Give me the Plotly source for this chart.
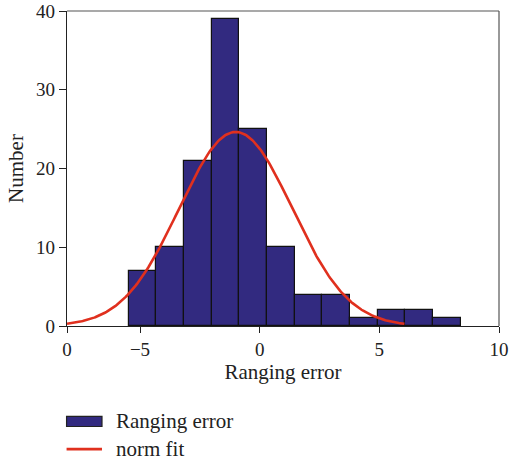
import numpy as np
import plotly.graph_objects as go

# Histogram of ranging errors
counts = [7, 10, 21, 39, 25, 10, 4, 4, 1, 2, 2, 1]
bin_start = -5.48
bin_width = 1.157

# Normal fit parameters
fit_mu = -1.0
fit_sigma = 2.36
fit_range = (-8.05, 6.05)

x_tick_vals = [-8.05, -5, 0, 5, 10]
x_tick_text = ["0", "\u22125", "0", "5", "10"]
y_tick_vals = [0, 10, 20, 30, 40]

centers = bin_start + bin_width * (np.arange(len(counts)) + 0.5)
n_total = sum(counts)
xf = np.linspace(fit_range[0], fit_range[1], 300)
yf = n_total * bin_width / (fit_sigma * np.sqrt(2 * np.pi)) * np.exp(-0.5 * ((xf - fit_mu) / fit_sigma) ** 2)

bar_color = "#322a80"
line_color = "#e0301e"
font_family = "Liberation Serif, DejaVu Serif, serif"
text_color = "#222222"

fig = go.Figure()
fig.add_trace(go.Bar(
    x=centers, y=counts, width=bin_width,
    marker=dict(color=bar_color, line=dict(color="#111111", width=1.2)),
    name="Ranging error", showlegend=False,
))
fig.add_trace(go.Scatter(
    x=xf, y=yf, mode="lines",
    line=dict(color=line_color, width=2.6),
    name="norm fit", showlegend=False,
))

# top/right frame
fig.add_shape(type="line", xref="paper", yref="paper", x0=0, x1=1, y0=1, y1=1,
              line=dict(color="#555555", width=1.2))
fig.add_shape(type="line", xref="paper", yref="paper", x0=1, x1=1, y0=0, y1=1,
              line=dict(color="#555555", width=1.2))

# legend drawn below the axes (plot height 315 px)
fig.add_shape(type="rect", xref="paper", yref="paper",
              x0=-0.001, x1=0.081, y0=-0.287, y1=-0.319,
              fillcolor=bar_color, line=dict(color="#222222", width=1.2))
fig.add_shape(type="line", xref="paper", yref="paper",
              x0=-0.001, x1=0.081, y0=-0.391, y1=-0.391,
              line=dict(color=line_color, width=2.6))
fig.add_annotation(xref="paper", yref="paper", x=0.108, y=-0.303, xanchor="left",
                   yanchor="middle", text="Ranging error", showarrow=False,
                   font=dict(size=21, color=text_color, family=font_family))
fig.add_annotation(xref="paper", yref="paper", x=0.108, y=-0.391, xanchor="left",
                   yanchor="middle", text="norm fit", showarrow=False,
                   font=dict(size=21, color=text_color, family=font_family))

fig.update_layout(
    width=510, height=461,
    margin=dict(l=67, r=11, t=11, b=135, autoexpand=False),
    plot_bgcolor="white", paper_bgcolor="white",
    bargap=0,
    font=dict(family=font_family, size=19, color=text_color),
    xaxis=dict(
        range=[-8.05, 10], tickvals=x_tick_vals, ticktext=x_tick_text,
        showgrid=False, zeroline=False, showline=True, linecolor="#222222", linewidth=1.2,
        ticks="outside", ticklen=6, tickcolor="#222222", ticklabeloverflow="allow",
        tickfont=dict(size=19), automargin=False,
        title=dict(text="Ranging error", standoff=2, font=dict(size=21)),
    ),
    yaxis=dict(
        range=[0, 40], tickvals=y_tick_vals,
        showgrid=False, zeroline=False, showline=True, linecolor="#222222", linewidth=1.2,
        ticks="outside", ticklen=7, tickcolor="#222222", ticklabeloverflow="allow",
        tickfont=dict(size=19), automargin=False,
        title=dict(text="Number", standoff=6, font=dict(size=21)),
    ),
)

fig.write_html("out.html")
